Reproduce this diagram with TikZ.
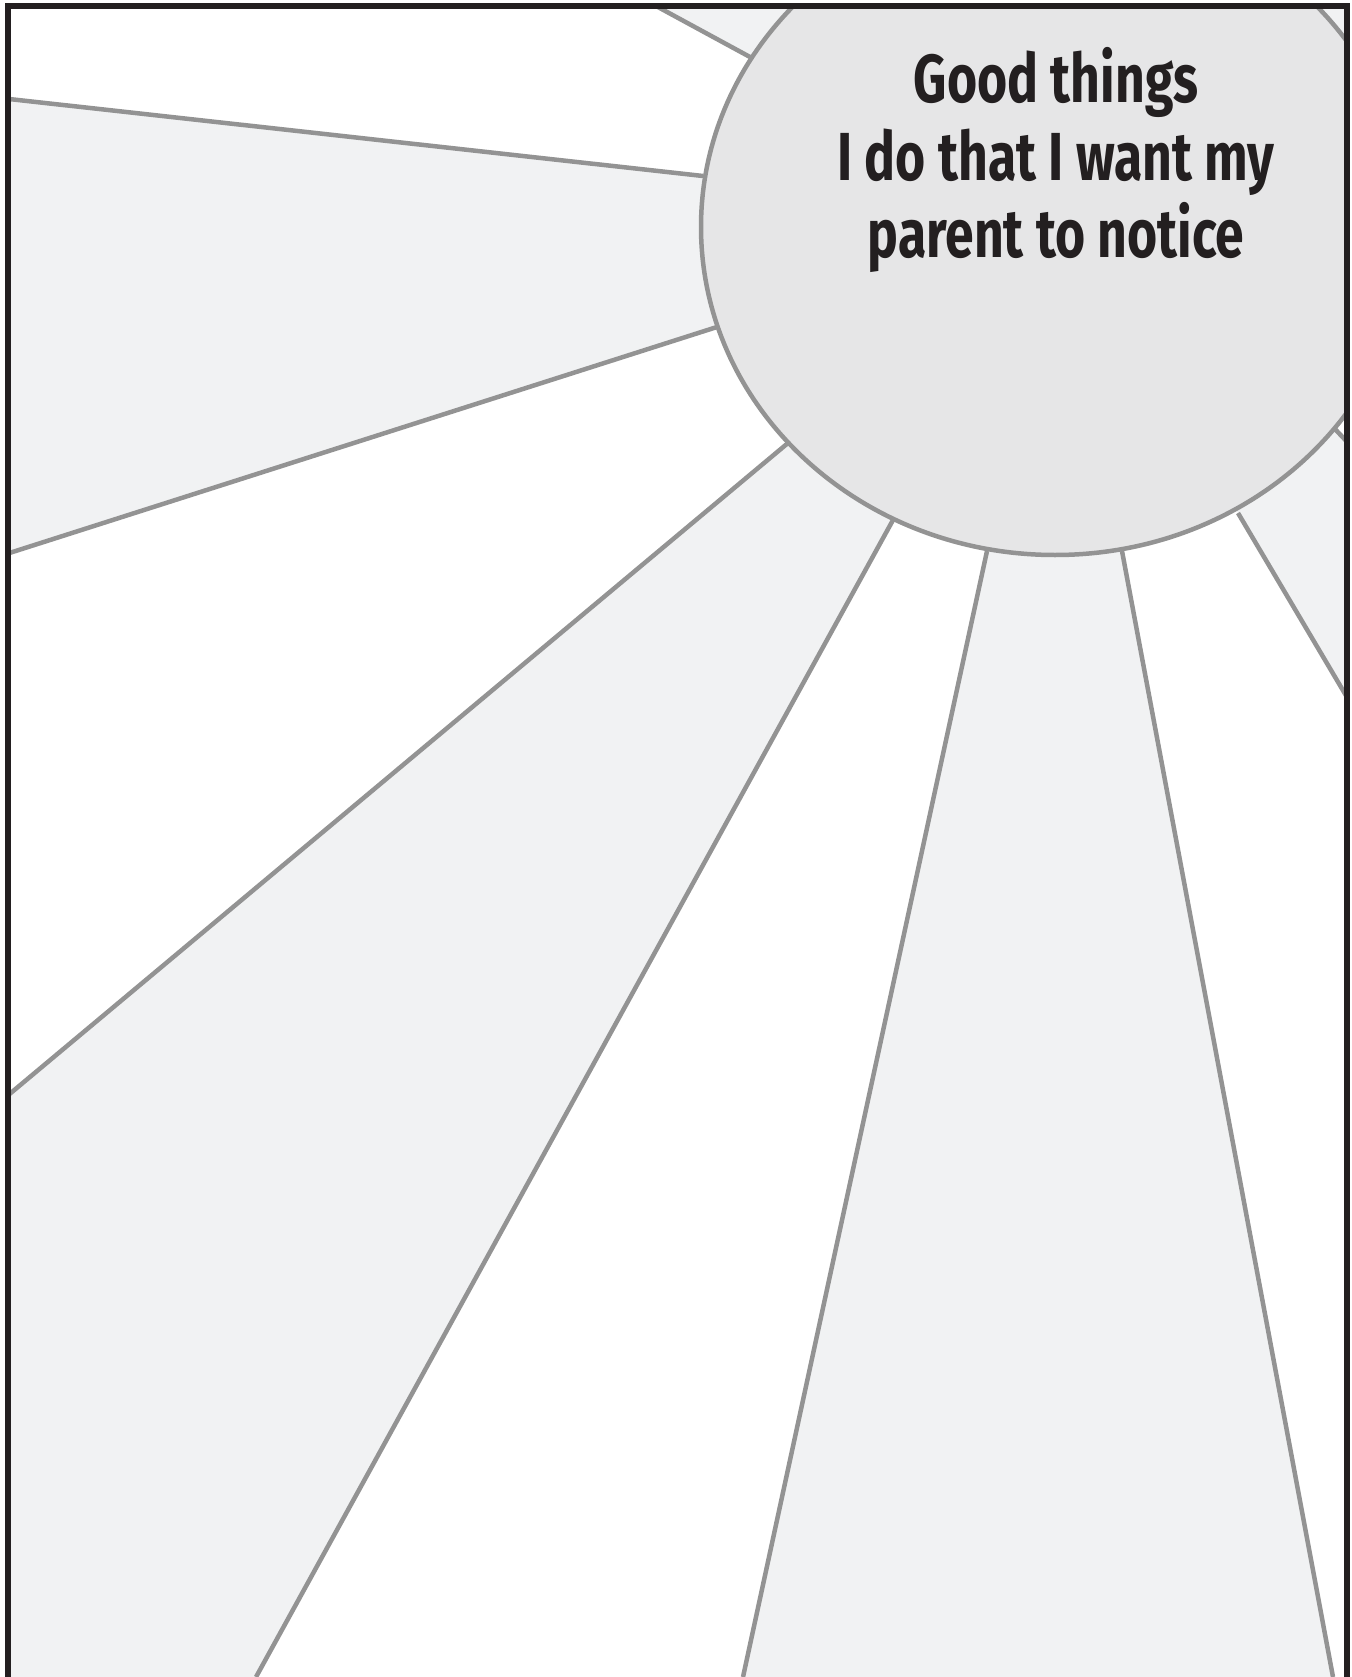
\documentclass[tikz,border=0pt]{standalone}
\usepackage{fontspec}
\newfontfamily\tfont[FakeStretch=0.76]{Fira Sans}
\usetikzlibrary{shapes.geometric}
\definecolor{shade}{HTML}{F1F2F3}
\definecolor{sunfill}{HTML}{E6E6E7}
\definecolor{raygray}{HTML}{939393}
\definecolor{ink}{HTML}{231F20}
\begin{document}
\begin{tikzpicture}[x=1pt,y=-1pt,
  ray/.style={draw=raygray, line width=4.5pt},
  sector/.style={fill=shade},
  sunshape/.style={ellipse, draw=raygray, fill=sunfill, line width=4.5pt,
    minimum width=708pt, minimum height=656pt, inner sep=0pt},
  framestyle/.style={draw=ink, line width=6pt},
  labelstyle/.style={font=\tfont\bfseries\fontsize{68}{77.5}\selectfont, text=ink, align=center, inner sep=0pt}]
\useasboundingbox (0,0) rectangle (1351,1677);
\fill[white] (0,0) rectangle (1351,1677);
\coordinate (c) at (1055,227);
\coordinate (r1i) at (750,57);   \coordinate (r1o) at (645,0);
\coordinate (r2i) at (703,176);  \coordinate (r2o) at (0,98);
\coordinate (r3i) at (717,327);  \coordinate (r3o) at (0,556);
\coordinate (r4i) at (788,443);  \coordinate (r4o) at (0,1102);
\coordinate (r5i) at (893,520);  \coordinate (r5o) at (256,1677);
\coordinate (r6i) at (987,551);  \coordinate (r6o) at (743,1677);
\coordinate (r7i) at (1122,551); \coordinate (r7o) at (1333,1677);
\coordinate (r8i) at (1238,513); \coordinate (r8o) at (1351,704);
\coordinate (r9i) at (1334,428); \coordinate (r9o) at (1351,446);
\begin{scope}
\clip (7.5,6.5) rectangle (1346.5,1690);
\fill[sector] (c) -- (r1i) -- (r1o) -- (1351,0) -- (1351,300) -- cycle;
\fill[sector] (c) -- (r2i) -- (r2o) -- (r3o) -- (r3i) -- cycle;
\fill[sector] (c) -- (r4i) -- (r4o) -- (0,1677) -- (r5o) -- (r5i) -- cycle;
\fill[sector] (c) -- (r6i) -- (r6o) -- (r7o) -- (r7i) -- cycle;
\fill[sector] (c) -- (r8i) -- (r8o) -- (r9o) -- (r9i) -- cycle;
\draw[ray] (r1i) -- (r1o);
\draw[ray] (r2i) -- (r2o);
\draw[ray] (r3i) -- (r3o);
\draw[ray] (r4i) -- (r4o);
\draw[ray] (r5i) -- (r5o);
\draw[ray] (r6i) -- (r6o);
\draw[ray] (r7i) -- (r7o);
\draw[ray] (r8i) -- (r8o);
\draw[ray] (r9i) -- (r9o);
\node[sunshape] (sun) at (c) {};
\end{scope}
\node[labelstyle, anchor=base] (label) at (1056,258) {Good things\\ I do that I want my\\ parent to notice};
\draw[framestyle] (7.5,1700) -- (7.5,6.5) -- (1346.5,6.5) -- (1346.5,1700);
\end{tikzpicture}
\end{document}
